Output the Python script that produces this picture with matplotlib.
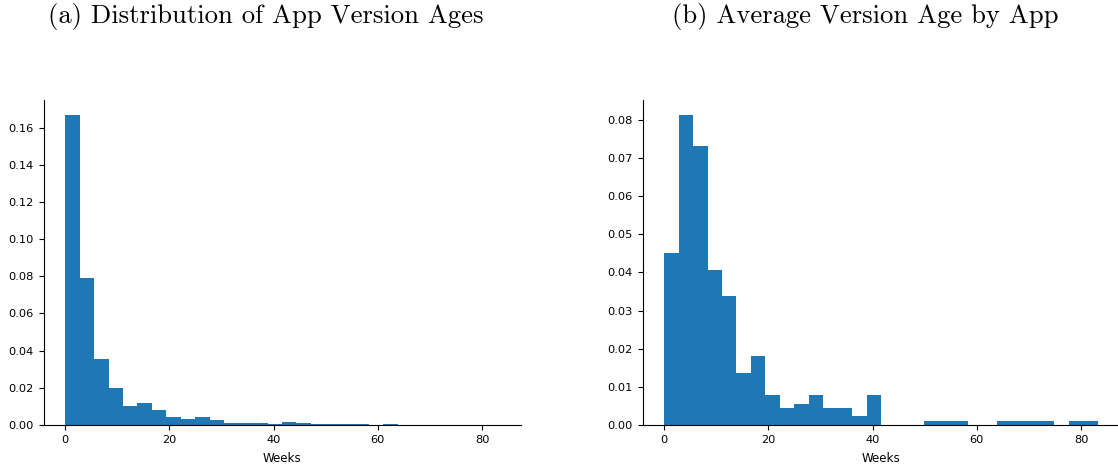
import numpy as np
import matplotlib
matplotlib.use("Agg")
import matplotlib.pyplot as plt

# ---- data ----
max_weeks = 83.2
n_bins = 30
# (a) density per bin
version_age_density = [0.1665, 0.0792, 0.0356, 0.0199, 0.0102, 0.0118, 0.0081,
                       0.0043, 0.0032, 0.0043, 0.0027, 0.0011, 0.0011, 0.0011,
                       0.0005, 0.0016, 0.0011, 0.0005, 0.0005, 0.0005, 0.0005,
                       0.0, 0.0005, 0.0, 0.0, 0.0, 0.0, 0.0, 0.0, 0.0]
# (b) number of apps per bin
app_avg_age_counts = [40, 72, 65, 36, 30, 12, 16, 7, 4, 5, 7, 4, 4, 2, 7,
                      0, 0, 0, 1, 1, 1, 0, 0, 1, 1, 1, 1, 0, 1, 1]
xticks = [0, 20, 40, 60, 80]
title_a = "(a) Distribution of App Version Ages"
title_b = "(b) Average Version Age by App"
xlabel = "Weeks"

edges = np.linspace(0, max_weeks, n_bins + 1)
centers = (edges[:-1] + edges[1:]) / 2

fig = plt.figure(figsize=(11.18, 4.70), dpi=100)
W, H = 1118, 470
ax1 = fig.add_axes([43.5 / W, 1 - 425 / H, 477 / W, 325 / H])
ax2 = fig.add_axes([642.5 / W, 1 - 425 / H, 477 / W, 325 / H])

ax1.hist(centers, bins=edges, weights=version_age_density, color="#1f77b4")
ax2.hist(centers, bins=edges, weights=app_avg_age_counts, density=True, color="#1f77b4")

for ax in (ax1, ax2):
    ax.spines["top"].set_visible(False)
    ax.spines["right"].set_visible(False)
    ax.set_xticks(xticks)
    ax.tick_params(labelsize=8.2)
    ax.set_xlabel(xlabel, fontsize=8.6, labelpad=5.5)

ax1.set_yticks(np.arange(0, 0.161, 0.02))
ax1.yaxis.set_major_formatter(matplotlib.ticker.FormatStrFormatter("%.2f"))
ax2.set_yticks(np.arange(0, 0.081, 0.01))
ax2.yaxis.set_major_formatter(matplotlib.ticker.FormatStrFormatter("%.2f"))

fig.text(266 / W, 1 - 17 / H, title_a, family="cmr10", fontsize=19.2,
         ha="center", va="center")
fig.text(865 / W, 1 - 17 / H, title_b, family="cmr10", fontsize=19.2,
         ha="center", va="center")

fig.savefig("out.png", dpi=100)
